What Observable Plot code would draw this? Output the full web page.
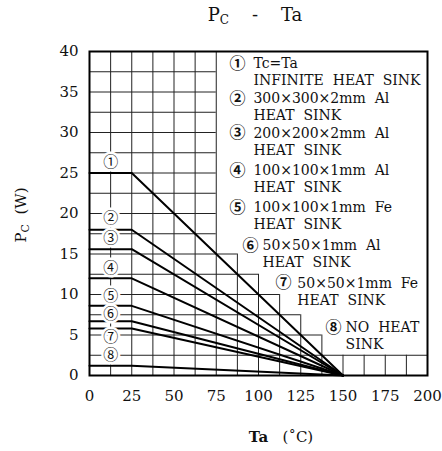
<!DOCTYPE html>
<html><head><meta charset="utf-8">
<script src="https://cdn.jsdelivr.net/npm/d3@7"></script>
<script src="https://cdn.jsdelivr.net/npm/@observablehq/plot@0.6"></script>
<style>
body{margin:0;background:#fff;font-family:"DejaVu Serif","Noto Sans CJK JP",serif;color:#111;}
#title{height:32px;width:442px;box-sizing:border-box;padding-left:68px;text-align:center;font-size:18px;line-height:30px;white-space:pre;}
#title sub{font-size:12px;vertical-align:-3px;}
svg text{white-space:pre;}
</style></head><body>
<div id="title">P<sub>C</sub>    -    Ta</div>
<div id="chart"></div>
<script>
// ---- data ----
const curveIds = ["①","②","③","④","⑤","⑥","⑦","⑧"];
const pcRated = [25, 18, 15.6, 12, 8.6, 6.7, 5.8, 1.2];   // W, flat up to knee
const taKnee = 25;      // °C
const taZero = 150;     // °C (Pc = 0)
const taStart = 0;
const xTicks = [0, 25, 50, 75, 100, 125, 150, 175, 200];
const yTicks = [0, 5, 10, 15, 20, 25, 30, 35, 40];

// curve label positions (annotation layout)
const labelTa = [12.5,12.5,12.5,12.5,12.5,12.5,12.5,12.5];
const labelPc = [26.3, 19.4, 17.0, 13.3, 9.85, 7.6, 4.7, 2.5];

// legend text
const legendLine1 = ["Tc=Ta","300×300×2mm  Al","200×200×2mm  Al","100×100×1mm  Al","100×100×1mm  Fe","50×50×1mm  Al","50×50×1mm  Fe","NO  HEAT"];
const legendLine2 = ["INFINITE  HEAT  SINK","HEAT  SINK","HEAT  SINK","HEAT  SINK","HEAT  SINK","HEAT  SINK","HEAT  SINK","SINK"];
const legendNumX = [87.5,87.5,87.5,87.5,87.5,95.3,114.8,144.4];
const legendTextX = [97,97,97,97,97,102.4,123,151.5];
const legendY = [38.5,34.2,29.9,25.3,20.7,16.0,11.4,5.9];
const legendGap = 2.1;

// staircase grid (extent of each grid line)
const gridVX =   [12.5,25,37.5,50,62.5,75,87.5,100,112.5,125,137.5,150,162.5,175,187.5];
const gridVTop = [40,40,40,40,40,40,15,12.5,10,7.5,5,2.5,2.5,2.5,2.5];
const gridHY =     [2.5,5,7.5,10,12.5,15,17.5,20,22.5,25,27.5,30,32.5,35,37.5];
const gridHRight = [200,137.5,125,112.5,100,87.5,75,75,75,75,75,75,75,75,75];

// ---- build tables ----
const curves = curveIds.flatMap((id, i) => [
  {id, ta: taStart, pc: pcRated[i]},
  {id, ta: taKnee, pc: pcRated[i]},
  {id, ta: taZero, pc: 0}
]);
const labels = curveIds.map((id, i) => ({id, ta: labelTa[i], pc: labelPc[i]}));
const legend = curveIds.map((id, i) => ({id, nx: legendNumX[i], tx: legendTextX[i], y1: legendY[i], y2: legendY[i] - legendGap, l1: legendLine1[i], l2: legendLine2[i]}));
const gridV = gridVX.map((x, i) => ({x, top: gridVTop[i]}));
const gridH = gridHY.map((y, i) => ({y, right: gridHRight[i]}));

const font = '"DejaVu Serif","Noto Sans CJK JP",serif';
const chart = Plot.plot({
  width: 442, height: 419,
  marginLeft: 89, marginRight: 15, marginTop: 19, marginBottom: 76,
  x: {domain: [0, 200]},
  y: {domain: [0, 40]},
  style: {fontFamily: font, background: "#fff", color: "#111"},
  marks: [
    Plot.ruleX(gridV, {x: "x", y1: 0, y2: "top", stroke: "#222", strokeWidth: 1}),
    Plot.ruleY(gridH, {y: "y", x1: 0, x2: "right", stroke: "#222", strokeWidth: 1}),
    Plot.line(curves, {x: "ta", y: "pc", z: "id", stroke: "#000", strokeWidth: 2}),
    Plot.text(labels, {x: "ta", y: "pc", text: "id", fontSize: 15, fill: "#111", stroke: "#fff", strokeWidth: 5, paintOrder: "stroke"}),
    Plot.text(legend, {x: "nx", y: "y1", text: "id", fontSize: 16, fontWeight: "bold", fill: "#111"}),
    Plot.text(legend, {x: "tx", y: "y1", text: "l1", fontSize: 14, textAnchor: "start", fill: "#111", style: "letter-spacing:0.4px"}),
    Plot.text(legend, {x: "tx", y: "y2", text: "l2", fontSize: 14, textAnchor: "start", fill: "#111"}),
    Plot.frame({stroke: "#000", strokeWidth: 2}),
    Plot.axisX({ticks: xTicks, tickSize: 0, tickPadding: 15, fontSize: 15, label: null}),
    Plot.axisY({ticks: yTicks, tickSize: 0, tickPadding: 11, fontSize: 15, label: null})
  ]
});
document.getElementById("chart").appendChild(chart);

// axis titles with subscript
const svg = d3.select(chart);
const yl = svg.append("text")
  .attr("transform", "translate(26,183) rotate(-90)")
  .attr("text-anchor", "middle").attr("font-size", 15).attr("fill", "#111").attr("font-family", font);
yl.append("tspan").text("P");
yl.append("tspan").attr("font-size", 11).attr("dy", 3).text("C");
yl.append("tspan").attr("dy", -3).text("  (W)");
const xl = svg.append("text")
  .attr("x", 281).attr("y", 410)
  .attr("text-anchor", "middle").attr("font-size", 15).attr("fill", "#111").attr("font-family", font);
xl.append("tspan").attr("font-weight", "bold").text("Ta");
xl.append("tspan").text("   (˚C)");
</script>
</body></html>
